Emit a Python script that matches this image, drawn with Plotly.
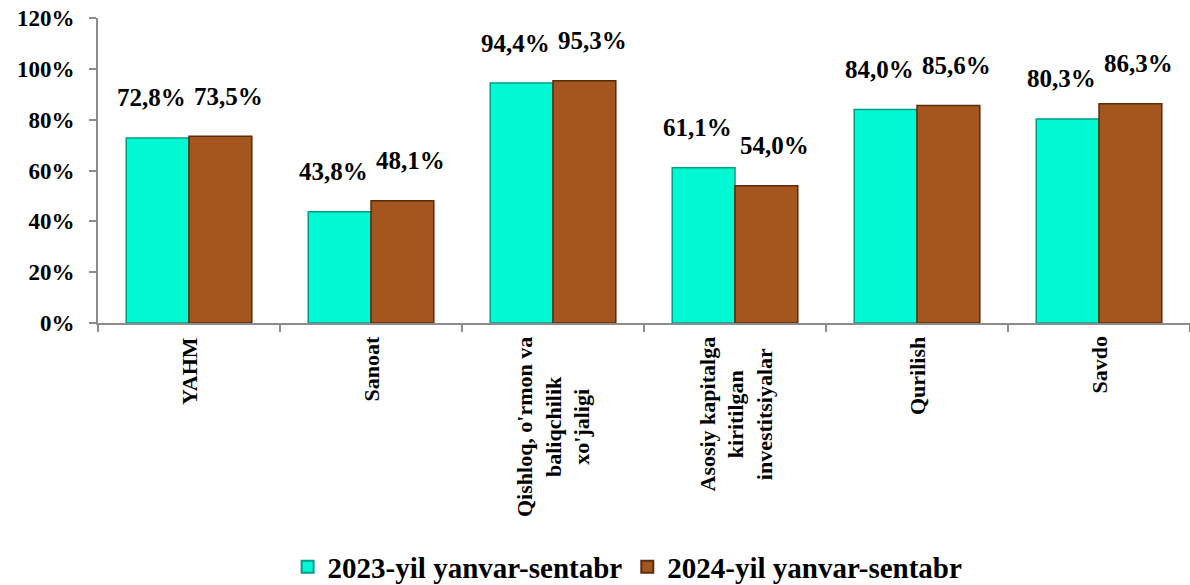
import plotly.graph_objects as go

categories = ["YAHM", "Sanoat", "Qishloq, o'rmon va<br>baliqchilik<br>xo'jaligi",
              "Asosiy kapitalga<br>kiritilgan<br>investitsiyalar", "Qurilish", "Savdo"]
series_names = ["2023-yil yanvar-sentabr", "2024-yil yanvar-sentabr"]
values_2023 = [72.8, 43.8, 94.4, 61.1, 84.0, 80.3]
values_2024 = [73.5, 48.1, 95.3, 54.0, 85.6, 86.3]
y_ticks = [0, 20, 40, 60, 80, 100, 120]

FONT = "Liberation Serif"
fill_colors = ["#00F8D2", "#A5561E"]
edge_colors = ["#009E86", "#5A2C0B"]

fig = go.Figure()
for name, vals, fc, ec in zip(series_names, [values_2023, values_2024], fill_colors, edge_colors):
    fig.add_trace(go.Bar(
        x=categories, y=vals, name=name,
        marker=dict(color=fc, line=dict(color=ec, width=1.5)),
        hoverinfo="x+y",
    ))

annotations = []
for vals, xs in [(values_2023, -38), (values_2024, 39)]:
    for c, v in zip(categories, vals):
        annotations.append(dict(
            x=c, y=v, xref="x", yref="y", xshift=xs, yshift=40,
            text=f"{v:.1f}%".replace(".", ","), showarrow=False,
            xanchor="center", yanchor="middle",
            font=dict(family=FONT, size=25, color="black", weight="bold"),
        ))
for c in categories:
    annotations.append(dict(
        x=c, y=0, xref="x", yref="y", yshift=-12,
        text=c, showarrow=False, textangle=-90, align="center",
        xanchor="center", yanchor="top",
        font=dict(family=FONT, size=22, color="black", weight="bold"),
    ))

fig.update_layout(
    width=1190, height=585,
    margin=dict(l=98, r=0, t=18, b=262, autoexpand=False),
    paper_bgcolor="white", plot_bgcolor="white",
    barmode="group", bargap=0.31, bargroupgap=0,
    font=dict(family=FONT, color="black"),
    annotations=annotations,
    showlegend=True,
    legend=dict(orientation="h", x=0.485, xanchor="center", y=-0.8, yanchor="middle",
                font=dict(family=FONT, size=29, color="black", weight="bold"),
                itemsizing="constant", traceorder="normal"),
    xaxis=dict(type="category", showticklabels=False, showline=True, linecolor="#8C8C8C",
               linewidth=2, ticks="outside", tickson="boundaries", ticklen=7,
               tickcolor="#8C8C8C", tickwidth=2, showgrid=False, zeroline=False),
    yaxis=dict(range=[0, 120], tickvals=y_ticks, ticktext=[f"{t}%" for t in y_ticks],
               showline=True, linecolor="#8C8C8C", linewidth=2, ticks="outside",
               ticklen=7, tickcolor="#8C8C8C", tickwidth=2, showgrid=False, zeroline=False,
               ticklabelstandoff=10,
               tickfont=dict(family=FONT, size=23, color="black", weight="bold")),
)

fig.write_html("out.html", config={"displayModeBar": False},
               post_script="document.body.style.margin='0';")
